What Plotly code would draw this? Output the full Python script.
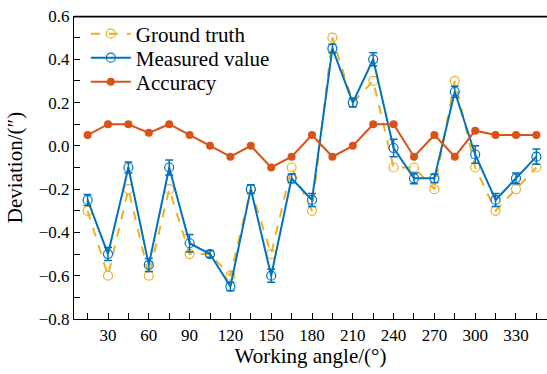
import plotly.graph_objects as go

angles = [15, 30, 45, 60, 75, 90, 105, 120, 135, 150, 165, 180, 195, 210, 225, 240, 255, 270, 285, 300, 315, 330, 345]
ground_truth = [-0.3, -0.6, -0.2, -0.6, -0.2, -0.5, -0.5, -0.6, -0.2, -0.5, -0.1, -0.3, 0.5, 0.2, 0.3, -0.1, -0.1, -0.2, 0.3, -0.1, -0.3, -0.2, -0.1]
measured = [-0.25, -0.5, -0.1, -0.55, -0.1, -0.45, -0.5, -0.65, -0.2, -0.6, -0.15, -0.25, 0.45, 0.2, 0.4, -0.01, -0.15, -0.15, 0.25, -0.04, -0.25, -0.15, -0.05]
measured_err = [0.025, 0.03, 0.025, 0.03, 0.035, 0.04, 0.015, 0.02, 0.02, 0.03, 0.02, 0.03, 0.02, 0.02, 0.03, 0.04, 0.025, 0.02, 0.025, 0.04, 0.03, 0.025, 0.035]
accuracy = [0.05, 0.1, 0.1, 0.06, 0.1, 0.05, 0.0, -0.05, 0.0, -0.1, -0.05, 0.05, -0.05, 0.0, 0.1, 0.1, -0.05, 0.05, -0.05, 0.07, 0.05, 0.05, 0.05]

BLUE = "#0072BD"
ORANGE = "#EDB120"
RED = "#D95319"
FONT = "Liberation Serif"

fig = go.Figure()
fig.add_trace(go.Scatter(
    x=angles, y=ground_truth, name="Ground truth", mode="lines+markers",
    line=dict(color=ORANGE, width=2, dash="dash"),
    marker=dict(symbol="circle-open", size=9, color=ORANGE, line=dict(width=1.2)),
    legend="legend",
))
fig.add_trace(go.Scatter(
    x=angles, y=measured, name="Measured value", mode="lines+markers",
    line=dict(color=BLUE, width=2),
    marker=dict(symbol="circle-open", size=9, color=BLUE, line=dict(width=1.2)),
    error_y=dict(type="data", array=measured_err, visible=True, color=BLUE, thickness=1.5, width=4),
    legend="legend2",
))
fig.add_trace(go.Scatter(
    x=angles, y=accuracy, name="Accuracy", mode="lines+markers",
    line=dict(color=RED, width=2),
    marker=dict(symbol="circle", size=8, color=RED),
    legend="legend3",
))

def leg(ypos):
    return dict(x=0.025, y=ypos, xanchor="left", yanchor="middle",
                bgcolor="rgba(0,0,0,0)", font=dict(family=FONT, size=21),
                itemwidth=40, tracegroupgap=0)

fig.update_layout(
    width=547, height=374,
    margin=dict(l=74, r=0, t=16, b=55),
    paper_bgcolor="white", plot_bgcolor="white",
    font=dict(family=FONT, size=17, color="black"),
    showlegend=True,
    legend=leg(0.9406),
    legend2=leg(0.8614),
    legend3=leg(0.7822),
    shapes=[dict(type="line", xref="paper", yref="paper", x0=0, x1=1, y0=0.998, y1=0.998,
                 layer="above", line=dict(color="black", width=1.6))],
)
fig.update_xaxes(
    range=[5, 352.8], tick0=0, dtick=30,
    ticks="inside", ticklen=6, tickwidth=1, tickcolor="black",
    minor=dict(tick0=0, dtick=15, ticks="inside", ticklen=6, tickwidth=1, tickcolor="black"),
    showline=True, linecolor="black", linewidth=1.2, mirror=False,
    showgrid=False, zeroline=False, ticklabeloverflow="allow",
    title=dict(text="Working angle/(°)", font=dict(family=FONT, size=21), standoff=2),
    tickfont=dict(family=FONT, size=17),
)
fig.update_yaxes(
    range=[-0.8, 0.6], tick0=0, dtick=0.2, tickformat=".1f",
    ticks="inside", ticklen=6, tickwidth=1, tickcolor="black",
    minor=dict(dtick=0.1, ticks="inside", ticklen=6, tickwidth=1, tickcolor="black"),
    showline=True, linecolor="black", linewidth=1.2, mirror=False,
    showgrid=False, zeroline=False, ticklabeloverflow="allow",
    title=dict(text="Deviation/(″)", font=dict(family=FONT, size=21), standoff=10),
    tickfont=dict(family=FONT, size=17),
)

fig.write_html("out.html", config={"displayModeBar": False},
               post_script="document.body.style.margin='0';")
